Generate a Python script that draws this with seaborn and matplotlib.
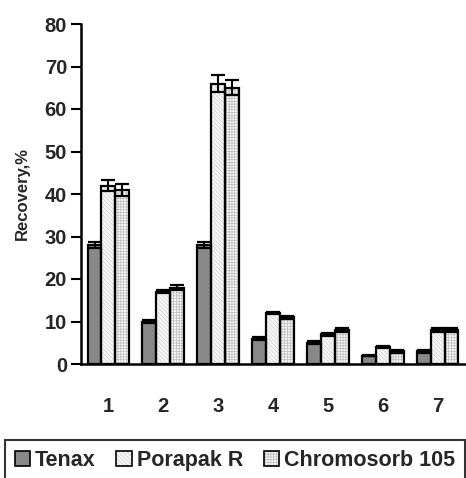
import matplotlib
matplotlib.use("Agg")
import matplotlib.pyplot as plt
import seaborn as sns
import pandas as pd
import numpy as np
from matplotlib.patches import Rectangle, Patch
from matplotlib.legend_handler import HandlerTuple

categories = ["1", "2", "3", "4", "5", "6", "7"]
series = ["Tenax", "Porapak R", "Chromosorb 105"]
tenax = [28, 10, 28, 6, 5, 2, 3]
porapak = [42, 17, 66, 12, 7, 4, 8]
chromosorb = [41, 18, 65, 11, 8, 3, 8]
tenax_err = [0.8, 0.3, 0.8, 0.3, 0.3, 0.2, 0.3]
porapak_err = [1.3, 0.4, 1.9, 0.3, 0.3, 0.3, 0.5]
chromosorb_err = [1.4, 0.5, 1.8, 0.4, 0.5, 0.3, 0.5]
yticks = [0, 10, 20, 30, 40, 50, 60, 70, 80]

sns.set_style("white")
plt.rcParams["font.family"] = ["Liberation Sans", "DejaVu Sans"]
plt.rcParams["font.weight"] = "bold"
plt.rcParams["hatch.linewidth"] = 0.5

df = pd.DataFrame({
    "cat": categories * 3,
    "series": [s for s in series for _ in categories],
    "value": tenax + porapak + chromosorb,
    "err": tenax_err + porapak_err + chromosorb_err,
})

fig = plt.figure(figsize=(4.66, 4.78), dpi=100)
ax = fig.add_axes([81 / 466, 1 - 364 / 478, 384 / 466, 340 / 478])

fills = {"Tenax": "#888888", "Porapak R": "#f6f6f6", "Chromosorb 105": "#f6f6f6"}
hatches = {"Tenax": None, "Porapak R": "\\\\\\\\\\\\\\\\", "Chromosorb 105": "++++++"}
hatch_col = {"Tenax": "#888888", "Porapak R": "#d2d2d2", "Chromosorb 105": "#bdbdbd"}

sns.barplot(data=df, x="cat", y="value", hue="series", order=categories,
            hue_order=series, palette=fills, width=0.76, errorbar=None,
            linewidth=0, legend=False, ax=ax, saturation=1)

for container, s in zip(ax.containers, series):
    errs = df[df["series"] == s]["err"].tolist()
    vals = df[df["series"] == s]["value"].tolist()
    xs = []
    for p in container.patches:
        p.set_edgecolor(hatch_col[s])
        if hatches[s]:
            p.set_hatch(hatches[s])
        ax.add_patch(Rectangle((p.get_x(), p.get_y()), p.get_width(), p.get_height(),
                               fill=False, edgecolor="black", linewidth=1.6, zorder=3))
        xs.append(p.get_x() + p.get_width() / 2)
    ax.errorbar(xs, vals, yerr=errs, fmt="none", ecolor="black", elinewidth=1.5,
                capsize=5, capthick=1.6, zorder=4)

ax.set_xlim(-0.5, 6.5)
ax.set_ylim(0, 80)
ax.set_yticks(yticks)
ax.set_yticklabels([str(t) for t in yticks], fontsize=14.5, fontweight="bold")
ax.set_xticks(range(len(categories)))
ax.set_xticklabels(categories, fontsize=14.5, fontweight="bold")
ax.set_xticks(np.arange(-0.5, 6.0, 1.0), minor=True)
ax.tick_params(axis="x", which="major", length=0, pad=24)
ax.tick_params(axis="x", which="minor", length=6, width=1.5, color="black", direction="out")
ax.tick_params(axis="y", length=7, width=1.5, color="black", direction="out", pad=3, left=True)
ax.set_xlabel("")
ax.set_ylabel("Recovery,%", fontsize=12, fontweight="bold", labelpad=11)
for side in ["top", "right"]:
    ax.spines[side].set_visible(False)
for side in ["left", "bottom"]:
    ax.spines[side].set_color("black")
    ax.spines[side].set_linewidth(1.8)

handles = [(Patch(facecolor=fills[s], edgecolor=hatch_col[s], hatch=hatches[s], linewidth=0),
            Patch(facecolor="none", edgecolor="black", linewidth=1.2))
           for s in series]
leg = fig.legend(handles, series, loc="lower left",
                 bbox_to_anchor=(5 / 466, -0.006, 460 / 466, 40 / 478), mode="expand",
                 ncol=3, frameon=True, fancybox=False, edgecolor="black",
                 handler_map={tuple: HandlerTuple(ndivide=1)},
                 prop={"family": "Liberation Sans", "weight": "bold", "size": 15.5},
                 handlelength=0.7, handleheight=0.7, handletextpad=0.25,
                 columnspacing=0.35, borderaxespad=0, borderpad=0.45)
leg.get_frame().set_linewidth(1.5)

fig.savefig("out.png", dpi=100)
